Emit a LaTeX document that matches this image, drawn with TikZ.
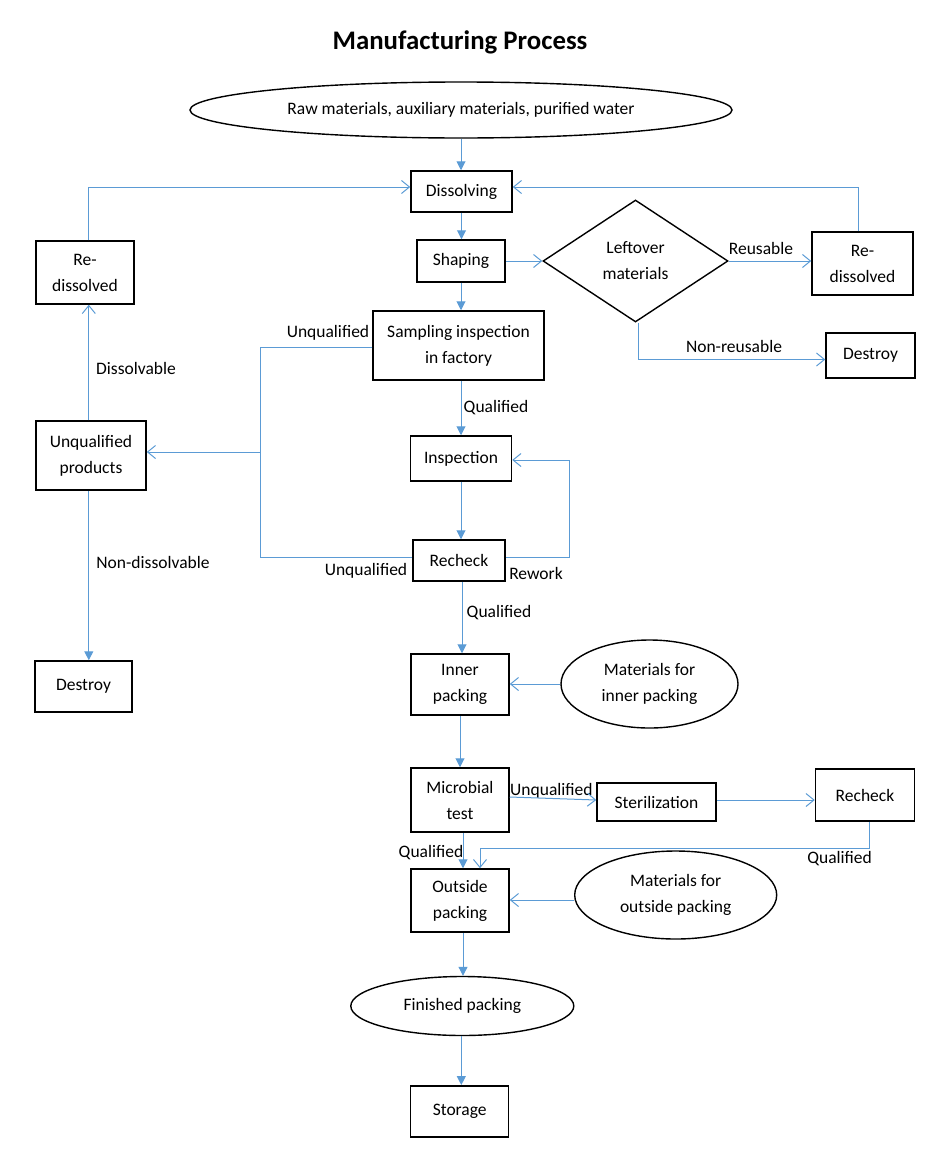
\documentclass[tikz,border=0pt]{standalone}
\usepackage{fontspec}
\setmainfont{Carlito}
\usetikzlibrary{arrows.meta,shapes.geometric}
\definecolor{lineblue}{RGB}{91,155,213}
\begin{document}
\begin{tikzpicture}[x=1pt,y=-1pt,
  every node/.style={font=\fontsize{17.5}{26}\selectfont, align=center, inner sep=0pt},
  box/.style={draw=black, line width=1.5pt, rectangle},
  oval/.style={draw=black, line width=1.4pt, ellipse},
  dia/.style={draw=black, line width=1.4pt, diamond},
  flowarr/.style={draw=lineblue, line width=1pt, -{Triangle[length=9pt,width=9pt]}},
  openarr/.style={draw=lineblue, line width=1pt, -{Straight Barb[length=8pt,width=13pt]}},
  plainln/.style={draw=lineblue, line width=1pt}
]
\useasboundingbox (0,0) rectangle (946,1162);
\node[font=\fontsize{26.8}{30}\selectfont\bfseries] (title) at (460,42) {Manufacturing Process};
\node[oval, minimum width=542pt, minimum height=56pt] (raw) at (461,110) {Raw materials, auxiliary materials, purified water};
\node[box, minimum width=101pt, minimum height=41pt] (dis) at (461.5,191.5) {Dissolving};
\node[box, minimum width=88pt, minimum height=42pt] (shp) at (461,261) {Shaping};
\node[box, minimum width=171pt, minimum height=69pt] (smp) at (458.5,345.5) {Sampling inspection\\in factory};
\node[box, minimum width=101pt, minimum height=45pt] (ins) at (461,458.5) {Inspection};
\node[box, minimum width=92pt, minimum height=41pt] (rck) at (459,560.5) {Recheck};
\node[box, minimum width=98pt, minimum height=61pt] (inn) at (460,684.5) {Inner\\packing};
\node[box, minimum width=98pt, minimum height=64pt] (mic) at (460,800) {Microbial\\test};
\node[box, minimum width=119pt, minimum height=38pt] (ste) at (656.5,802) {Sterilization};
\node[box, minimum width=99pt, minimum height=52pt] (rc2) at (865,795) {Recheck};
\node[box, minimum width=98pt, minimum height=63pt] (out) at (460,900.5) {Outside\\packing};
\node[box, minimum width=98pt, minimum height=51pt] (sto) at (459.7,1111.3) {Storage};
\node[oval, minimum width=223pt, minimum height=59pt] (fin) at (462.3,1006) {Finished packing};
\node[oval, minimum width=177pt, minimum height=88pt] (mi) at (649.5,684) {Materials for\\inner packing};
\node[oval, minimum width=202pt, minimum height=88pt] (mo) at (675.7,895) {Materials for\\outside packing};
\node[dia, minimum width=185pt, minimum height=122pt, shape aspect=1.52] (lft) at (635.5,261) {Leftover\\materials};
\node[box, minimum width=101pt, minimum height=63pt] (rdr) at (862.5,263.5) {Re-\\dissolved};
\node[box, minimum width=89pt, minimum height=45pt] (der) at (870.5,355.5) {Destroy};
\node[box, minimum width=98pt, minimum height=63pt] (rdl) at (85,272.5) {Re-\\dissolved};
\node[box, minimum width=110pt, minimum height=69pt] (up) at (91,455.5) {Unqualified\\products};
\node[box, minimum width=97pt, minimum height=51pt] (del) at (83.5,686.5) {Destroy};

% labels
\node (l1) at (761,248) {Reusable};
\node (l2) at (734,346) {Non-reusable};
\node (l3) at (328,333) {Unqualified};
\node (l4) at (366,571) {Unqualified};
\node (l5) at (496,408) {Qualified};
\node (l6) at (536,573) {Rework};
\node (l7) at (499,613) {Qualified};
\node (l8) at (551.4,790.7) {Unqualified};
\node (l9) at (839.6,859) {Qualified};
\node (l10) at (431,853) {Qualified};
\node (l11) at (136,368) {Dissolvable};
\node (l12) at (153,562) {Non-dissolvable};

% connectors
\draw[flowarr] (raw.south) -- (raw.south |- dis.north);
\draw[openarr] ([xshift=3.8pt]rdl.north) |- ([yshift=4.5pt]dis.west);
\draw[openarr] ([xshift=-4.5pt]rdr.north) |- ([yshift=4.5pt]dis.east);
\draw[flowarr] (dis.south) -- (dis.south |- shp.north);
\draw[openarr] (shp.east) -- (lft.west);
\draw[openarr] (lft.east) -- (lft.east -| rdr.west);
\draw[openarr] ([xshift=2.5pt]lft.south) |- ([yshift=-4pt]der.west);
\draw[flowarr] (shp.south) -- (shp.south |- smp.north);
\coordinate (jt) at (260,347);
\coordinate (jb) at (260,557);
\coordinate (jm) at (260,452);
\draw[plainln] ([yshift=-1.5pt]smp.west) -- (jt) -- (jb) -- (jb -| rck.west);
\draw[openarr] (jm) -- (jm -| up.east);
\draw[flowarr] (ins.north |- smp.south) -- (ins.north);
\draw[flowarr] (ins.south) -- (ins.south |- rck.north);
\coordinate (rw1) at (569.5,557);
\coordinate (rw2) at (569.5,460);
\draw[openarr] (rw1 -| rck.east) -- (rw1) -- (rw2) -- (rw2 -| ins.east);
\draw[flowarr] ([xshift=3pt]rck.south) -- ([xshift=3pt]rck.south |- inn.north);
\draw[openarr] (mi.west) -- (mi.west -| inn.east);
\draw[flowarr] (inn.south) -- (inn.south |- mic.north);
\draw[openarr] ([yshift=3pt]mic.east) -- ([yshift=2pt]ste.west);
\draw[openarr] ([yshift=2pt]ste.east) -- ([yshift=2pt]ste.east -| rc2.west);
\coordinate (q1) at (869,848);
\coordinate (q2) at (480,848);
\draw[openarr] (rc2.south -| q1) -- (q1) -- (q2) -- (q2 |- out.north);
\draw[flowarr] ([xshift=3pt]mic.south) -- ([xshift=3pt]mic.south |- out.north);
\draw[openarr] ([yshift=-5pt]mo.west) -- ([yshift=-5pt]mo.west -| out.east);
\draw[flowarr] ([xshift=3pt]out.south) -- ([xshift=3pt]out.south |- fin.north);
\draw[flowarr] ([xshift=-1pt]fin.south) -- ([xshift=-1pt]fin.south |- sto.north);
\draw[openarr] ([xshift=-2.2pt]up.north) -- ([xshift=-2.2pt]up.north |- rdl.south);
\draw[flowarr] ([xshift=-2.2pt]up.south) -- ([xshift=-2.2pt]up.south |- del.north);
\end{tikzpicture}
\end{document}
